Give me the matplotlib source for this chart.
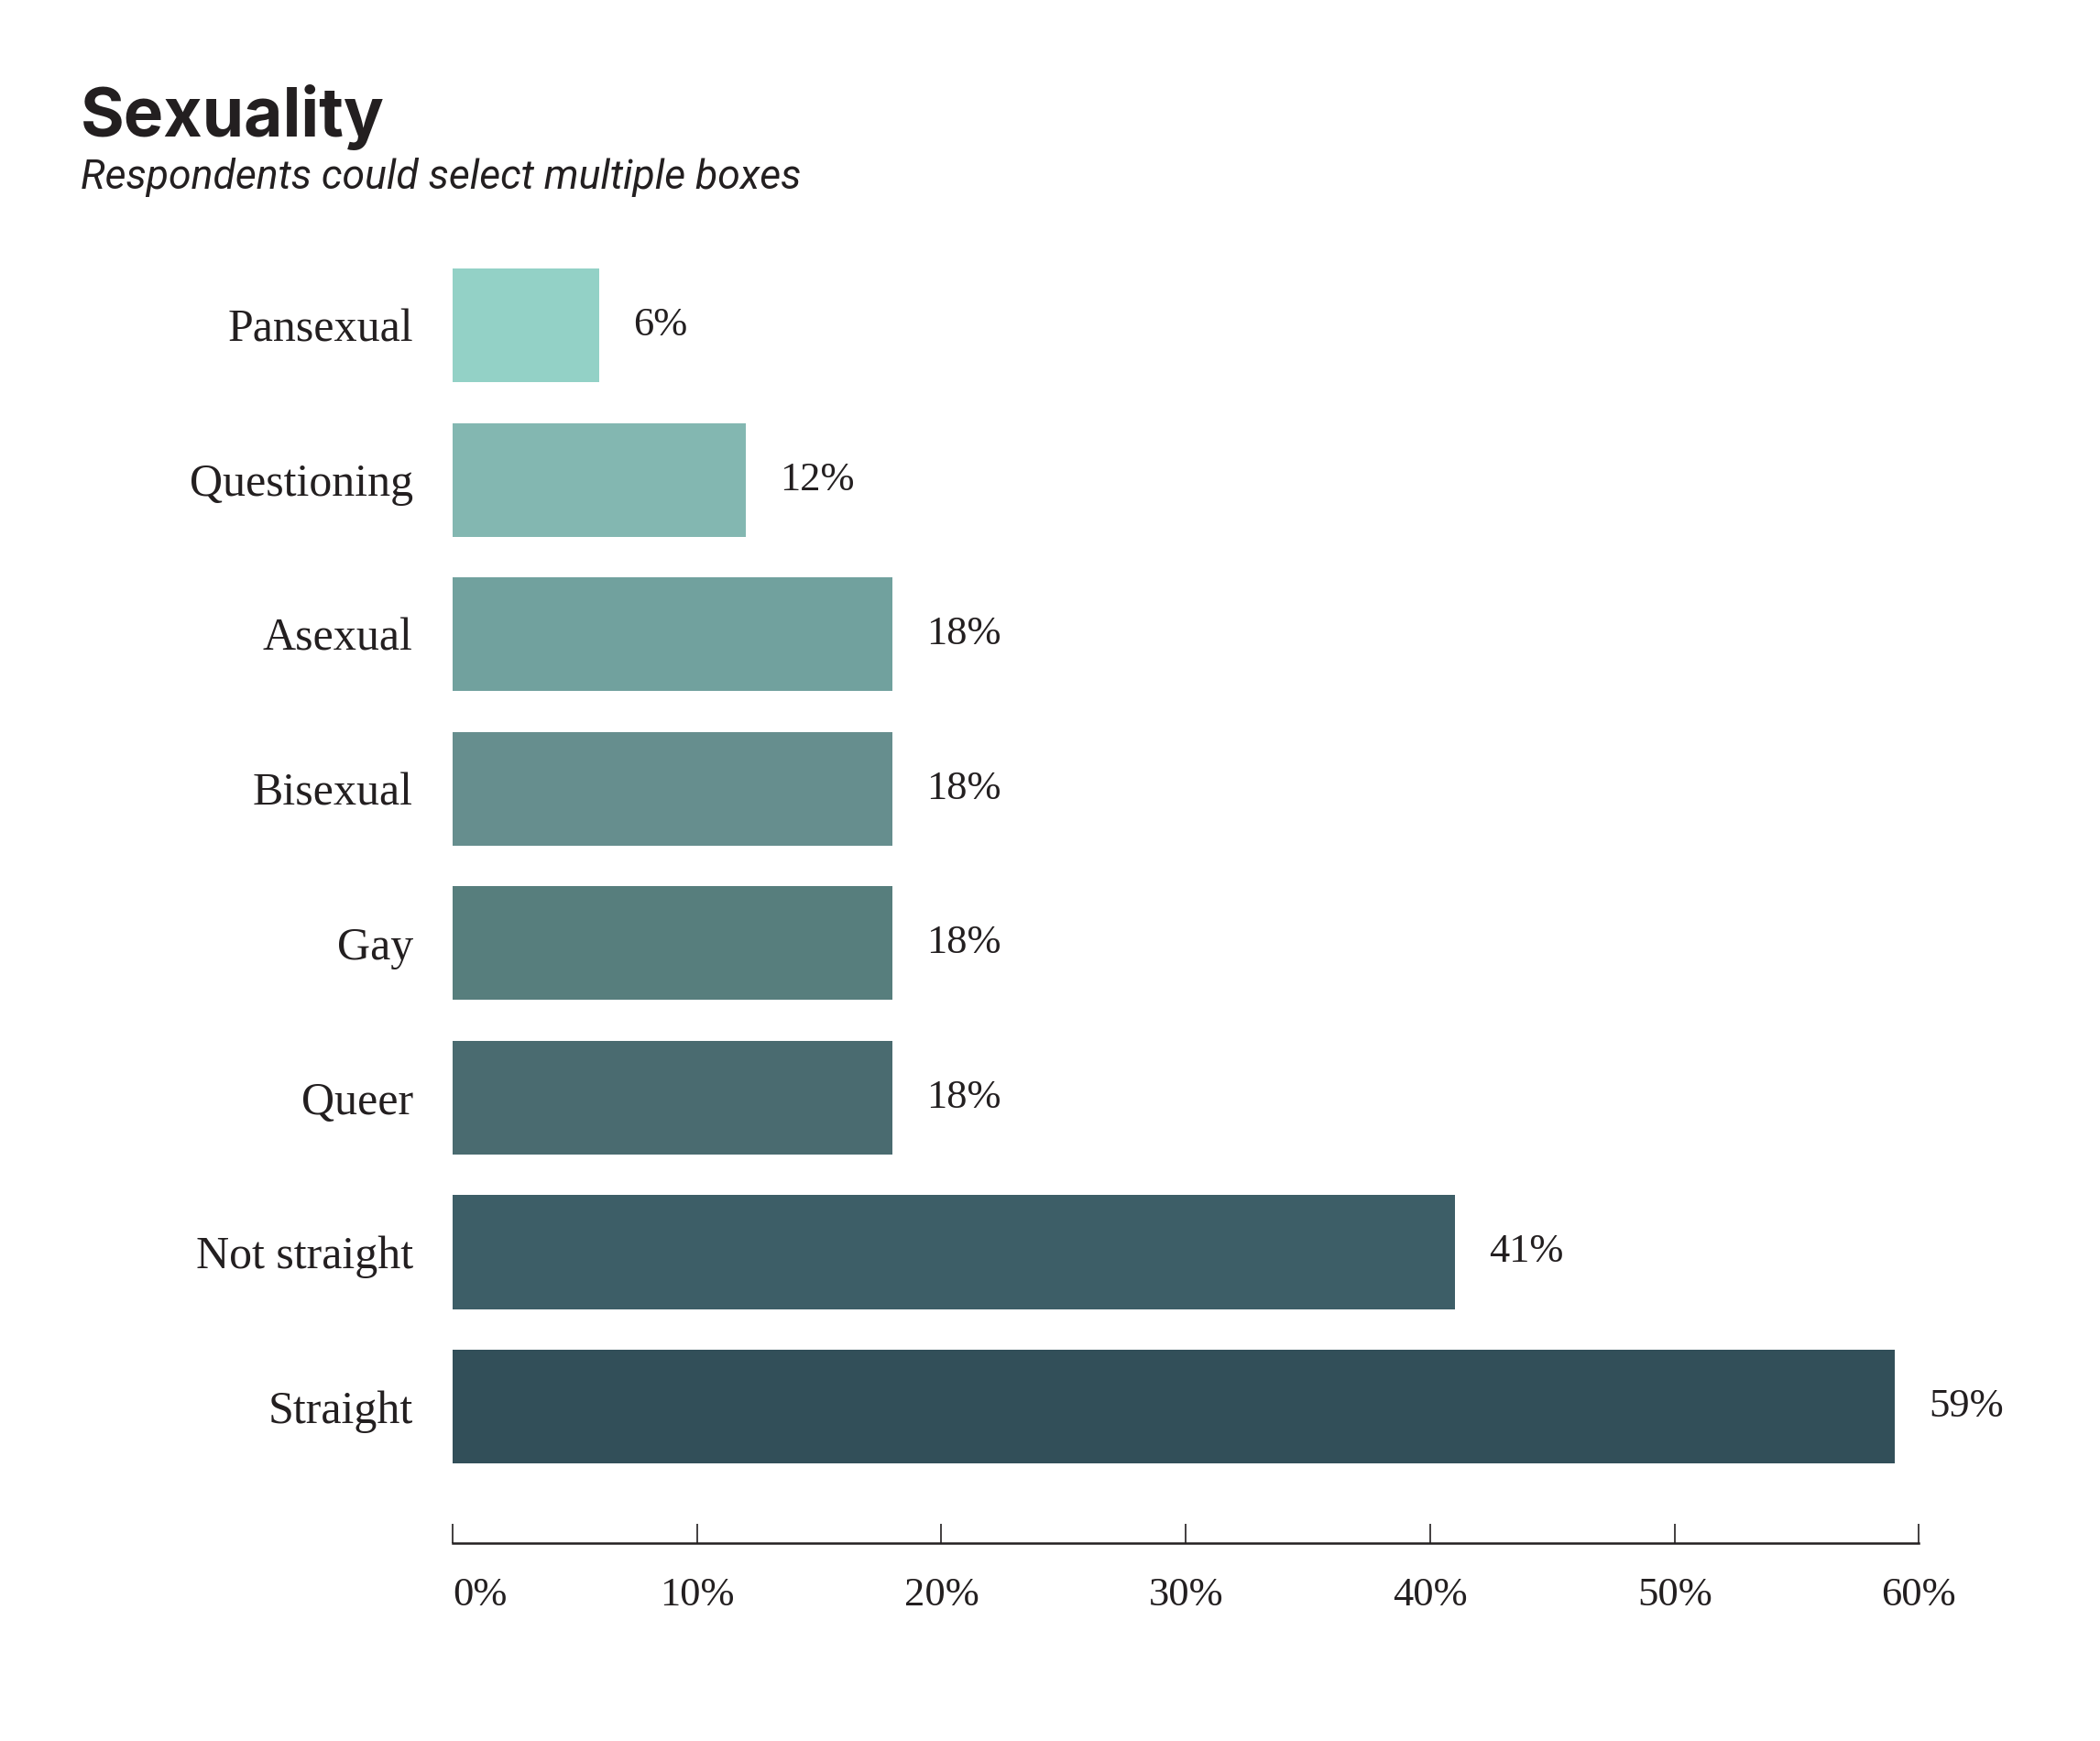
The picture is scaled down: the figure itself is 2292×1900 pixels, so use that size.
# -*- coding: utf-8 -*-

# Sexuality - horizontal bar chart

import numpy as np
import matplotlib.pyplot as plt

# Data (top to bottom)
categorias = ['Pansexual', 'Questioning', 'Asexual', 'Bisexual',
              'Gay', 'Queer', 'Not straight', 'Straight']
valores = [6, 12, 18, 18, 18, 18, 41, 59]
colores = ['#93d1c6', '#83b7b1', '#71a19e', '#668e8e',
           '#577e7d', '#4a6b70', '#3d5e67', '#324f59']
ticks_x = [0, 10, 20, 30, 40, 50, 60]
ticks_labels = ['0%', '10%', '20%', '30%', '40%', '50%', '60%']

serif = 'Liberation Serif'
texto = '#231f20'

fig = plt.figure(figsize=(11.46, 9.5), dpi=200)
fig.patch.set_facecolor('white')

ax = fig.add_axes([0.2155, 0.1137, 0.6983, 0.7321])

n = len(categorias)
y = np.arange(n)[::-1]  # Pansexual arriba
ax.barh(y, valores, height=0.737, color=colores, edgecolor='none')

# etiquetas de valor
for yi, v in zip(y, valores):
    ax.annotate(f'{v}%', xy=(v, yi), xytext=(13.5, 0), textcoords='offset points',
                va='center', ha='left', fontsize=16, family=serif, color=texto)

ax.set_xlim(0, 60)
ax.set_ylim(-0.884, n - 1 + 0.3685)

ax.set_yticks(y)
ax.set_yticklabels(categorias, fontsize=18, family=serif, color=texto)
ax.tick_params(axis='y', length=0, pad=15.5)

ax.set_xticks(ticks_x)
ax.set_xticklabels(ticks_labels, fontsize=16, family=serif, color=texto)
ax.tick_params(axis='x', direction='in', length=7.5, width=0.6, color=texto, pad=13.5)
ax.get_xticklabels()[0].set_ha('left')

for lado in ['top', 'right', 'left']:
    ax.spines[lado].set_visible(False)
ax.spines['bottom'].set_linewidth(0.9)
ax.spines['bottom'].set_color(texto)

# Titulos
fig.text(0.0384, 0.9216, 'Sexuality', fontsize=26.3, fontweight='bold',
         family='Inter', color=texto, va='baseline', ha='left')
fig.text(0.0384, 0.8916, 'Respondents could select multiple boxes', fontsize=16,
         style='italic', family='Roboto', color=texto, va='baseline', ha='left')

plt.savefig('out.png', dpi=200, facecolor='white')
